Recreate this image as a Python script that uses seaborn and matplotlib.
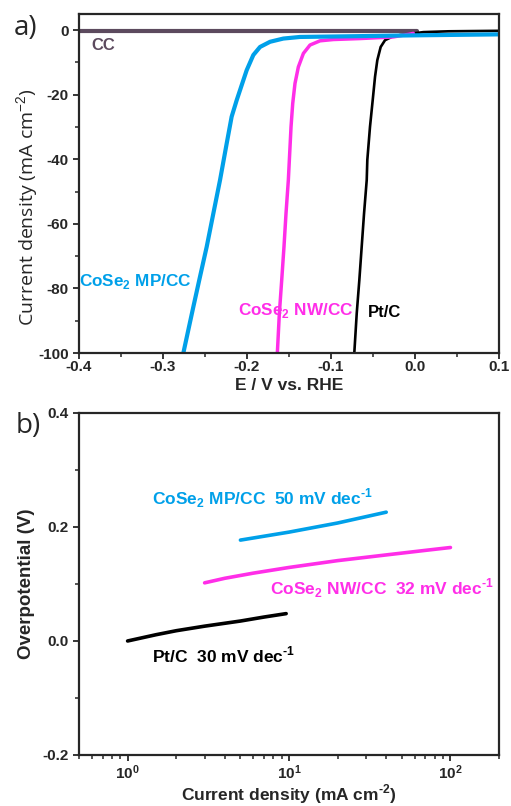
import numpy as np
import pandas as pd
import seaborn as sns
import matplotlib.pyplot as plt

# ---- panel a) polarization curves (E vs RHE in V, J in mA cm-2)
cc_E = [-0.4, 0.002]
cc_J = [-0.3, -0.3]

pt_E = [-0.0723, -0.0694, -0.0663, -0.0635, -0.0607, -0.0575, -0.0568, -0.0536, -0.0504,
        -0.0476, -0.0449, -0.0409, -0.0357, -0.0277, -0.0179, -0.005, 0.01, 0.04, 0.1]
pt_J = [-100, -87.7, -77.4, -67.1, -56.8, -46.4, -40.2, -29.9, -21.7,
        -14.4, -9.3, -5.2, -3.1, -2.1, -1.5, -1.1, -0.6, -0.35, -0.2]

nw_E = [-0.1639, -0.1615, -0.1587, -0.156, -0.1536, -0.1508, -0.1496, -0.1476, -0.1456,
        -0.1429, -0.1389, -0.1329, -0.125, -0.1131, -0.0972, -0.0655, -0.0258, -0.002]
nw_J = [-100, -87.7, -77.4, -67.1, -56.8, -46.4, -40.2, -29.9, -22.7,
        -16.5, -11.4, -7.2, -4.6, -3.3, -2.9, -2.6, -2.1, -1.0]

mp_E = [-0.2758, -0.2699, -0.2639, -0.256, -0.248, -0.2401, -0.2321, -0.2242, -0.2183,
        -0.2123, -0.2063, -0.2004, -0.1925, -0.1845, -0.1726, -0.1568, -0.137, -0.08, 0.0, 0.1]
mp_J = [-100, -92.9, -85.7, -76.4, -67.1, -56.8, -46.4, -35.1, -26.8,
        -21.7, -17.0, -12.4, -7.7, -5.2, -3.6, -2.6, -2.1, -1.9, -1.6, -1.3]

# ---- panel b) Tafel plots (j in mA cm-2, overpotential in V)
pt_j = [1.0, 1.5, 2.0, 3.0, 5.0, 7.0, 9.6]
pt_eta = [0.0, 0.011, 0.018, 0.026, 0.035, 0.042, 0.048]
nw_j = [3, 4, 6, 10, 20, 40, 70, 100]
nw_eta = [0.102, 0.110, 0.119, 0.129, 0.141, 0.151, 0.159, 0.164]
mp_j = [5, 10, 20, 40]
mp_eta = [0.177, 0.191, 0.207, 0.226]

top_xticks = [-0.4, -0.3, -0.2, -0.1, 0.0, 0.1]
top_yticks = [0, -20, -40, -60, -80, -100]
bot_xticks = [1, 10, 100]
bot_xlabels = [r'$\mathbf{10^0}$', r'$\mathbf{10^1}$', r'$\mathbf{10^2}$']
bot_yticks = [-0.2, 0.0, 0.2, 0.4]

BLUE = '#00a0e9'
MAG = '#ff2ee8'
CCC = '#5c4a5e'
SUP = '$^{\\mathbf{\u2010' + '1}}$'

sns.set_style('ticks')
plt.rcParams['font.family'] = ['Liberation Sans', 'DejaVu Sans']
plt.rcParams['mathtext.fontset'] = 'custom'
plt.rcParams['mathtext.rm'] = 'Liberation Sans'
plt.rcParams['mathtext.bf'] = 'Liberation Sans:bold'
plt.rcParams['axes.unicode_minus'] = False
plt.rcParams['axes.linewidth'] = 1.6
plt.rcParams['xtick.major.width'] = 1.3
plt.rcParams['ytick.major.width'] = 1.3
plt.rcParams['xtick.minor.width'] = 1.1
plt.rcParams['ytick.minor.width'] = 1.1

fig = plt.figure(figsize=(5.11, 8.06), dpi=100)
ax1 = fig.add_axes([0.1546, 0.562, 0.822, 0.4206])
ax2 = fig.add_axes([0.1546, 0.0633, 0.822, 0.4243])

# panel a
sns.lineplot(x=cc_E, y=cc_J, ax=ax1, color=CCC, lw=3, sort=False)
sns.lineplot(x=pt_E, y=pt_J, ax=ax1, color='black', lw=1.9, sort=False)
sns.lineplot(x=nw_E, y=nw_J, ax=ax1, color=MAG, lw=2.5, sort=False)
sns.lineplot(x=mp_E, y=mp_J, ax=ax1, color=BLUE, lw=3, sort=False)

ax1.set_xlim(-0.4, 0.1)
ax1.set_ylim(-100, 5)
ax1.set_xticks(top_xticks)
ax1.set_xticks(np.arange(-0.35, 0.1, 0.1), minor=True)
ax1.set_yticks(top_yticks)
ax1.set_yticks([-10, -30, -50, -70, -90], minor=True)
ax1.set_xticklabels([f'{v:.1f}' for v in top_xticks])
ax1.tick_params(which='major', length=4, labelsize=11)
ax1.tick_params(which='minor', length=3)
for lab in ax1.get_xticklabels() + ax1.get_yticklabels():
    lab.set_fontweight('bold')
ax1.tick_params(axis='x', pad=1)
ax1.set_xlabel('E / V vs. RHE', fontsize=12.5, fontweight='bold', labelpad=3)
ax1.set_ylabel(r'Current density (mA cm$^{-2}$)', fontsize=14,
               family=['Open Sans', 'DejaVu Sans'])
ax1.yaxis.set_label_coords(-0.09, 0.43)

ax1.text(-0.385, -4.6, 'CC', color=CCC, fontsize=12, fontweight='bold', va='center')
ax1.text(-0.400, -78, r'CoSe$_\mathbf{2}$ MP/CC', color=BLUE, fontsize=12.3,
         fontweight='bold', va='center')
ax1.text(-0.211, -86.7, r'CoSe$_\mathbf{2}$ NW/CC', color=MAG, fontsize=12.3,
         fontweight='bold', va='center')
ax1.text(-0.056, -87.6, 'Pt/C', color='black', fontsize=12, fontweight='bold', va='center')

# panel b
sns.lineplot(x=pt_j, y=pt_eta, ax=ax2, color='black', lw=2.6, sort=False)
sns.lineplot(x=nw_j, y=nw_eta, ax=ax2, color=MAG, lw=2.6, sort=False)
sns.lineplot(x=mp_j, y=mp_eta, ax=ax2, color=BLUE, lw=2.6, sort=False)

ax2.set_xscale('log')
ax2.set_xlim(0.5, 200)
ax2.set_ylim(-0.2, 0.4)
ax2.set_xticks(bot_xticks)
ax2.set_xticklabels(bot_xlabels)
ax2.set_yticks(bot_yticks)
ax2.set_yticklabels([f'{v:.1f}' for v in bot_yticks])
ax2.set_yticks([-0.1, 0.1, 0.3], minor=True)
ax2.tick_params(which='major', length=4, labelsize=11)
ax2.tick_params(which='minor', length=3)
ax2.tick_params(axis='x', pad=2)
for lab in ax2.get_yticklabels():
    lab.set_fontweight('bold')
ax2.set_xlabel('Current density (mA cm$^{\\mathbf{\u2010' + '2}}$)', fontsize=12.5,
               fontweight='bold', labelpad=0)
ax2.set_ylabel('Overpotential (V)', fontsize=13.5, fontweight='bold', labelpad=5)

ax2.text(1.42, 0.251, r'CoSe$_\mathbf{2}$ MP/CC  50 mV dec' + SUP, color=BLUE,
         fontsize=12.5, fontweight='bold', va='center')
ax2.text(7.6, 0.093, r'CoSe$_\mathbf{2}$ NW/CC  32 mV dec' + SUP, color=MAG,
         fontsize=12.5, fontweight='bold', va='center')
ax2.text(1.42, -0.025, 'Pt/C  30 mV dec' + SUP, color='black',
         fontsize=12.5, fontweight='bold', va='center')

fig.text(0.026, 0.965, 'a)', fontsize=20, family=['Open Sans', 'DejaVu Sans'], va='center')
fig.text(0.030, 0.472, 'b)', fontsize=20, family=['Open Sans', 'DejaVu Sans'], va='center')

fig.savefig('out.png', dpi=100)
